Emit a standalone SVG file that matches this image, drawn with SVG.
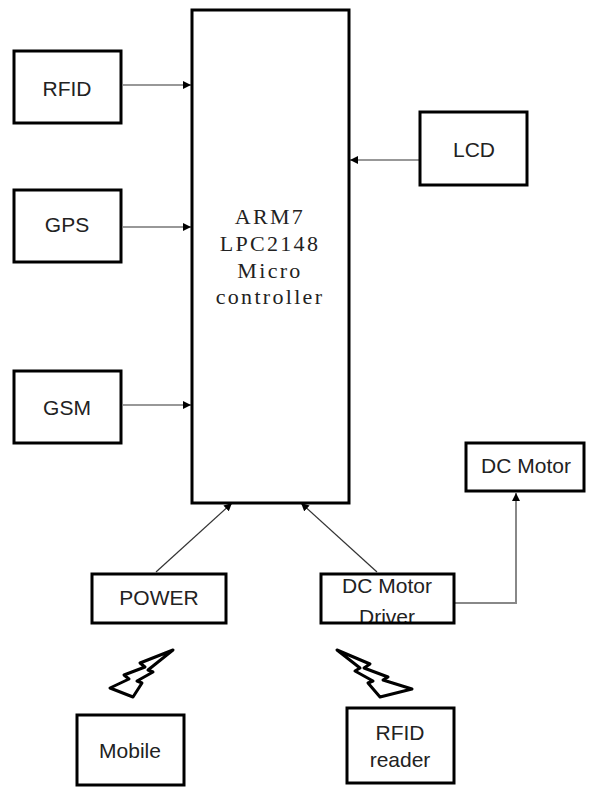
<svg xmlns="http://www.w3.org/2000/svg" width="589" height="787" viewBox="0 0 589 787">
<defs>
<style>
.box{fill:#fff;stroke:#000;stroke-width:3}
.lbl{font-family:"Liberation Sans","Open Sans",sans-serif;font-size:21px;fill:#222;text-anchor:middle}
.main{font-family:"Liberation Serif","Times New Roman",serif;font-size:22px;fill:#222;text-anchor:middle;letter-spacing:2.3px}
.conn{stroke:#333;stroke-width:1.2;fill:none}
.conn2{stroke:#888;stroke-width:2;fill:none}
.bolt{fill:#fff;stroke:#000;stroke-width:3;stroke-linejoin:round}
</style>
<marker id="ah" viewBox="0 0 10 10" refX="10" refY="5" markerWidth="8" markerHeight="8" markerUnits="userSpaceOnUse" orient="auto">
<path d="M0,0 L10,5 L0,10 z" fill="#000"/>
</marker>
</defs>
<rect width="589" height="787" fill="#fff"/>
<g id="connectors">
<line class="conn" x1="123" y1="85" x2="191" y2="85" marker-end="url(#ah)"/>
<line class="conn" x1="123" y1="227" x2="191" y2="227" marker-end="url(#ah)"/>
<line class="conn" x1="123" y1="405" x2="191" y2="405" marker-end="url(#ah)"/>
<line class="conn" x1="419" y1="160" x2="350" y2="160" marker-end="url(#ah)"/>
<line class="conn" x1="156" y1="572" x2="232" y2="503" marker-end="url(#ah)"/>
<line class="conn" x1="377" y1="572" x2="301" y2="503" marker-end="url(#ah)"/>
<polyline class="conn2" points="455,603 516,603 516,493" marker-end="url(#ah)"/>
</g>
<g id="mcu">
<rect class="box" x="192" y="10" width="157" height="493"/>
<text class="main" x="270" y="224">ARM7</text>
<text class="main" x="270" y="251">LPC2148</text>
<text class="main" x="270" y="278">Micro</text>
<text class="main" x="270" y="304">controller</text>
</g>
<g id="rfid">
<rect class="box" x="14" y="51" width="107" height="72"/>
<text class="lbl" x="67" y="96">RFID</text>
</g>
<g id="gps">
<rect class="box" x="14" y="190" width="107" height="72"/>
<text class="lbl" x="67" y="232">GPS</text>
</g>
<g id="gsm">
<rect class="box" x="14" y="371" width="107" height="72"/>
<text class="lbl" x="67" y="415">GSM</text>
</g>
<g id="lcd">
<rect class="box" x="420" y="112" width="107" height="73"/>
<text class="lbl" x="474" y="157">LCD</text>
</g>
<g id="power">
<rect class="box" x="92" y="574" width="134" height="49"/>
<text class="lbl" x="159" y="605">POWER</text>
</g>
<g id="driver">
<text class="lbl" x="387" y="593">DC Motor</text>
<text class="lbl" x="387" y="624">Driver</text>
<rect x="321" y="574" width="133" height="49" fill="none" stroke="#000" stroke-width="3"/>
</g>
<g id="dcmotor">
<rect class="box" x="466" y="443" width="118" height="48"/>
<text class="lbl" x="526" y="473">DC Motor</text>
</g>
<g id="mobile">
<rect class="box" x="77" y="715" width="107" height="70"/>
<text class="lbl" x="130" y="758">Mobile</text>
</g>
<g id="rfidreader">
<rect class="box" x="347" y="708" width="107" height="75"/>
<text class="lbl" x="400" y="740">RFID</text>
<text class="lbl" x="400" y="767">reader</text>
</g>
<g id="bolt-left">
<polygon class="bolt" points="173,650 140,663 145,667 124,675 129,679 110,688 133,697 142,683 137,681 153,672 148,670"/>
</g>
<g id="bolt-right">
<polygon class="bolt" points="337,650 370,664 364,668 388,677 383,680 412,689 380,697 368,683 373,681 355,671 360,668"/>
</g>
</svg>
